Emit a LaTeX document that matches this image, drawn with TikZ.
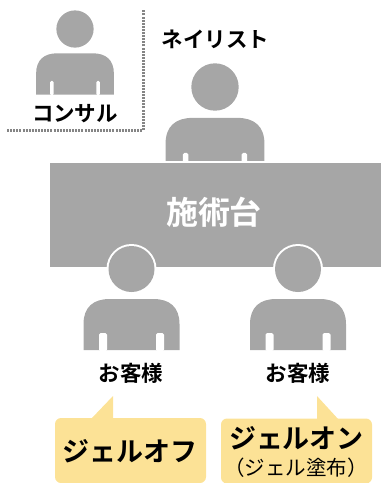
\documentclass[tikz,border=0pt]{standalone}
\usepackage{fontspec}
\setmainfont{Noto Sans CJK JP}[BoldFont={* Bold}]
\usetikzlibrary{calc}
\definecolor{figgray}{HTML}{A6A6A6}
\definecolor{calloutyellow}{HTML}{FCE296}
\def\person(#1,#2)(#3:#4){
	\begin{scope}[shift={(#1,#2)},scale=#3]
		\fill[figgray] (0,0) circle (23);
		\fill[figgray] (-48,81) -- (-48,55) .. controls (-48,38) and (-38,30) .. (-22,30) -- (22,30) .. controls (38,30) and (48,38) .. (48,55) -- (48,81) -- cycle;
		\fill[white,rounded corners=1.5] ({-28.5-#4},82) -- ({-28.5-#4},64) -- ({-28.5+#4},64) -- ({-28.5+#4},82) -- cycle;
		\fill[white,rounded corners=1.5] ({28.5-#4},82) -- ({28.5-#4},64) -- ({28.5+#4},64) -- ({28.5+#4},82) -- cycle;
	\end{scope}
}
\tikzset{
	label21/.style={font=\fontsize{21.5}{26}\selectfont\bfseries,text=black,inner sep=0pt},
	label26/.style={font=\fontsize{27}{32}\selectfont\bfseries,text=black,inner sep=0pt},
	callout/.style={fill=calloutyellow,rounded corners=6,minimum width=151,minimum height=65,inner sep=0pt}
}

\begin{document}
\begin{tikzpicture}[x=1pt,y=-1pt]
	\useasboundingbox (0,0) rectangle (381,483);
	
	\person(75,29)(0.81:2.2);
	\draw[color=figgray!80!black,line width=3pt,dash pattern=on 2pt off 1.1pt] (7,130.5) -- (143,130.5) -- (143,10);
	\node[label21] (consultant) at (75,114) {コンサル};
	
	\person(215,87)(1.03:2.6);
	\node[label21] (nailist) at (215.5,39) {ネイリスト};
	
	\draw[fill=figgray,draw=white,line width=2pt] (49,162) rectangle (383,268);
	\node[font=\fontsize{32}{36}\selectfont\bfseries,text=white,inner sep=0pt] (table) at (214,212) {施術台};
	
	\fill[white] (131.5,269) circle (25);
	\fill[white] (298,269) circle (25);
	\person(131.5,269)(1:4);
	\person(298,269)(1:4);
	\node[label21] (guestleft) at (131,373) {お客様};
	\node[label21] (guestright) at (298,373) {お客様};
	
	\fill[calloutyellow] (91,419) -- (113,396) -- (113,419) -- cycle;
	\fill[calloutyellow] (317,396) -- (317,420) -- (339,420) -- cycle;
	\node[callout] (offbox) at (130.5,450.5) {};
	\node[callout] (onbox) at (296.5,451) {};
	\node[label26] (offtext) at (130,451) {ジェルオフ};
	\node[label26] (ontext) at (296.5,438) {ジェルオン};
	\node[font=\fontsize{20.5}{24}\selectfont,text=black,inner sep=0pt] (onsub) at (296,468) {（ジェル塗布）};
\end{tikzpicture}
\end{document}
